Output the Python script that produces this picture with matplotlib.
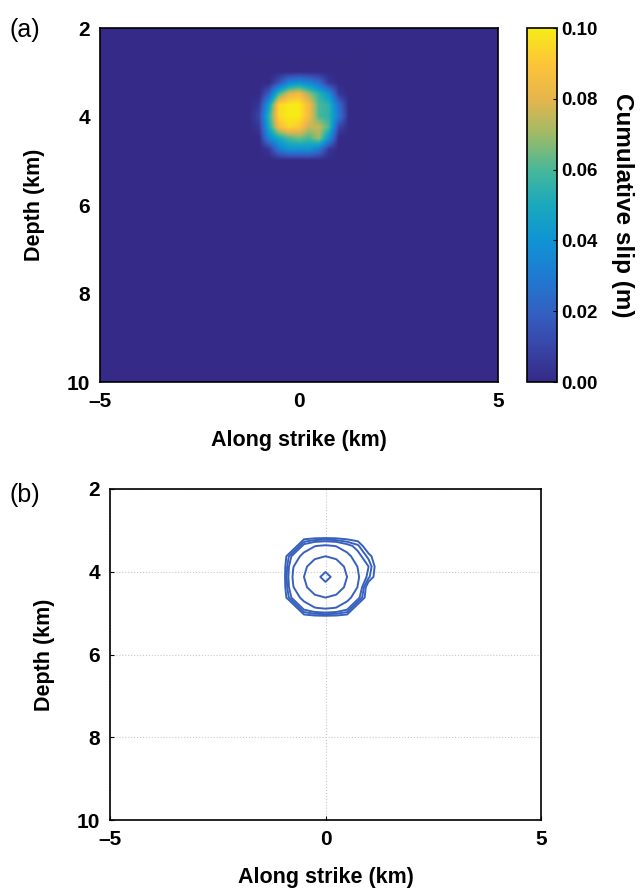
import numpy as np
import matplotlib.pyplot as plt
from matplotlib.colors import LinearSegmentedColormap

plt.rcParams['font.family'] = ['Liberation Sans', 'DejaVu Sans']
plt.rcParams['font.weight'] = 'bold'

# parula-like colormap
parula_pts = [
    (0.00, (0.208, 0.166, 0.529)),
    (0.10, (0.220, 0.270, 0.660)),
    (0.20, (0.200, 0.380, 0.760)),
    (0.30, (0.120, 0.480, 0.820)),
    (0.40, (0.060, 0.580, 0.830)),
    (0.50, (0.100, 0.660, 0.740)),
    (0.60, (0.280, 0.720, 0.600)),
    (0.70, (0.620, 0.730, 0.400)),
    (0.80, (0.900, 0.710, 0.300)),
    (0.90, (0.990, 0.770, 0.220)),
    (1.00, (0.970, 0.920, 0.090)),
]
parula = LinearSegmentedColormap.from_list('parula', parula_pts)

# slip grid (cm)
slip_x = [-1.5, -1.25, -1.0, -0.75, -0.5, -0.25, 0.0, 0.25, 0.5, 0.75, 1.0, 1.25, 1.5]
slip_depth = [2.75, 3.0, 3.25, 3.5, 3.75, 4.0, 4.25, 4.5, 4.75, 5.0, 5.25]
slip_cm = [
    [0, 0, 0, 0, 0, 0, 0, 0, 0, 0, 0, 0, 0],
    [0, 0, 0, 0, 0, 0, 0, 0, 0, 0, 0, 0, 0],
    [0, 0, 0, 0, 1.5, 3.5, 4.0, 3.5, 2.5, 0.5, 0, 0, 0],
    [0, 0, 0, 2.0, 6.0, 8.0, 8.5, 7.0, 5.5, 4.0, 0.5, 0, 0],
    [0, 0, 0.5, 4.5, 9.5, 10.0, 10.0, 8.5, 6.0, 5.5, 2.5, 0, 0],
    [0, 0, 1.0, 5.5, 9.5, 10.0, 10.0, 8.5, 6.0, 5.5, 3.0, 0, 0],
    [0, 0, 0.5, 5.0, 8.5, 9.5, 9.0, 7.5, 7.5, 6.0, 1.0, 0, 0],
    [0, 0, 0, 3.5, 5.0, 6.0, 6.5, 6.0, 7.0, 4.0, 0, 0, 0],
    [0, 0, 0, 0.5, 3.0, 4.0, 4.0, 4.0, 3.0, 0.5, 0, 0, 0],
    [0, 0, 0, 0, 0, 0, 0, 0, 0, 0, 0, 0, 0],
    [0, 0, 0, 0, 0, 0, 0, 0, 0, 0, 0, 0, 0],
]
slip = np.array(slip_cm) / 100.0

# rupture front grid for panel (b)
front_x = [-1.5, -1.25, -1.0, -0.75, -0.5, -0.25, 0.0, 0.25, 0.5, 0.75, 1.0, 1.25, 1.5]
front_depth = [2.875, 3.125, 3.375, 3.625, 3.875, 4.125, 4.375, 4.625, 4.875, 5.125, 5.375]
front = [
    [1.2, 1.2, 1.2, 1.2, 1.2, 1.2, 1.2, 1.2, 1.2, 1.2, 1.2, 1.2, 1.2],
    [1.2, 1.2, 1.2, 1.2, 1.2, 1.2, 1.2, 1.2, 1.2, 1.2, 1.2, 1.2, 1.2],
    [1.2, 1.2, 1.2, 1.2, 0.90, 0.79, 0.75, 0.79, 0.90, 1.0, 1.2, 1.2, 1.2],
    [1.2, 1.2, 1.2, 0.90, 0.71, 0.56, 0.50, 0.56, 0.71, 0.90, 1.05, 1.2, 1.2],
    [1.2, 1.2, 1.2, 0.79, 0.56, 0.35, 0.25, 0.35, 0.56, 0.79, 0.95, 1.2, 1.2],
    [1.2, 1.2, 1.2, 0.75, 0.50, 0.25, 0.0, 0.25, 0.50, 0.75, 1.0, 1.2, 1.2],
    [1.2, 1.2, 1.2, 0.79, 0.56, 0.35, 0.25, 0.35, 0.56, 0.79, 1.2, 1.2, 1.2],
    [1.2, 1.2, 1.2, 0.90, 0.71, 0.56, 0.50, 0.56, 0.71, 0.90, 1.2, 1.2, 1.2],
    [1.2, 1.2, 1.2, 1.2, 0.90, 0.79, 0.75, 0.79, 0.90, 1.2, 1.2, 1.2, 1.2],
    [1.2, 1.2, 1.2, 1.2, 1.2, 1.2, 1.2, 1.2, 1.2, 1.2, 1.2, 1.2, 1.2],
    [1.2, 1.2, 1.2, 1.2, 1.2, 1.2, 1.2, 1.2, 1.2, 1.2, 1.2, 1.2, 1.2],
]
front_levels = [0.12, 0.5, 0.78, 0.95, 1.02, 1.09]

x_ticks = [-5, 0, 5]
y_ticks = [2, 4, 6, 8, 10]
cb_ticks = [0.0, 0.02, 0.04, 0.06, 0.08, 0.10]

fig = plt.figure(figsize=(6.44, 8.92), dpi=100)

# ---- panel (a)
ax1 = fig.add_axes([0.1553, 0.5717, 0.618, 0.3969])
ax1.set_facecolor(parula(0.0))
dx = 0.125
im = ax1.imshow(slip, cmap=parula, vmin=0, vmax=0.10, interpolation='bilinear',
                extent=[slip_x[0] - dx, slip_x[-1] + dx, slip_depth[-1] + dx, slip_depth[0] - dx],
                aspect='auto')
ax1.set_xlim(-5, 5)
ax1.set_ylim(10, 2)
ax1.set_xticks(x_ticks)
ax1.set_xticklabels(['\u20135', '0', '5'])
ax1.set_yticks(y_ticks)
ax1.tick_params(length=0, labelsize=15, pad=7)
ax1.set_xlabel('Along strike (km)', fontsize=15.5, fontweight='bold', labelpad=14)
ax1.set_ylabel('Depth (km)', fontsize=15.5, fontweight='bold', labelpad=16)
for s in ax1.spines.values():
    s.set_linewidth(1.2)

cax = fig.add_axes([0.8183, 0.5717, 0.0466, 0.3969])
cb = fig.colorbar(im, cax=cax, ticks=cb_ticks)
cb.ax.set_yticklabels(['0.00', '0.02', '0.04', '0.06', '0.08', '0.10'])
cb.ax.tick_params(length=3, direction='in', labelsize=13.5, pad=3)
cb.outline.set_linewidth(1.2)
cb.set_label('Cumulative slip (m)', fontsize=17.5, fontweight='bold', rotation=-90, labelpad=26)

fig.text(0.015, 0.958, '(a)', fontsize=18, fontweight='normal')

# ---- panel (b)
ax2 = fig.add_axes([0.1708, 0.0807, 0.6693, 0.3711])
ax2.contour(front_x, front_depth, front, levels=front_levels,
            colors=[(0.22, 0.38, 0.74)], linewidths=1.4)
ax2.set_xlim(-5, 5)
ax2.set_ylim(10, 2)
ax2.set_xticks(x_ticks)
ax2.set_xticklabels(['\u20135', '0', '5'])
ax2.set_yticks(y_ticks)
ax2.grid(True, linestyle=':', color='#c8c8c8', linewidth=0.8)
ax2.tick_params(direction='in', length=3, labelsize=15, pad=7)
ax2.set_xlabel('Along strike (km)', fontsize=15.5, fontweight='bold', labelpad=13)
ax2.set_ylabel('Depth (km)', fontsize=15.5, fontweight='bold', labelpad=16)
for s in ax2.spines.values():
    s.set_linewidth(1.2)

fig.text(0.015, 0.437, '(b)', fontsize=18, fontweight='normal')

fig.savefig('out.png', dpi=100)
